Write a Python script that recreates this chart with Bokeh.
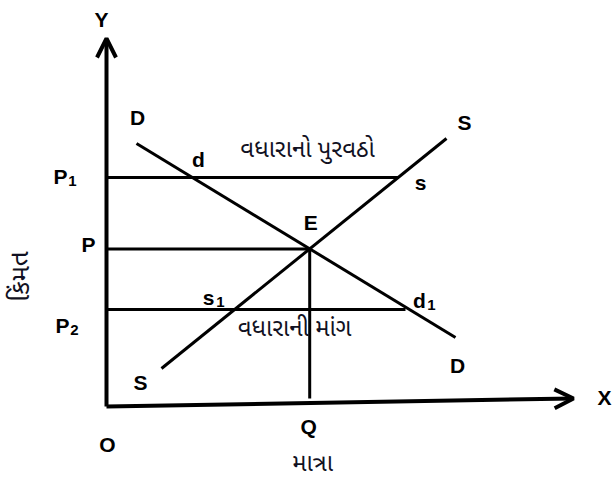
from bokeh.plotting import figure
from bokeh.models import Range1d, Arrow, OpenHead, ColumnDataSource
from bokeh.core.properties import value
from bokeh.embed import file_html
from bokeh.resources import INLINE

# ---- schematic values (diagram units) ----
demand_x = [1.5, 17.45]
demand_y = [13.15, 3.45]
supply_x = [2.75, 17.0]
supply_y = [1.9, 13.4]
eq_q = 10.16          # equilibrium quantity Q
eq_p = 7.88           # equilibrium price P
p1 = 11.45            # price above equilibrium
p2 = 4.85             # price below equilibrium
s_at_p1 = 14.6        # quantity supplied at P1 (point s)
d_at_p2 = 14.95       # quantity demanded at P2 (point d1)
d_at_p1 = 4.5         # point d
s_at_p2 = 6.4         # point s1
y_axis_top = 18.4
x_axis_end = 23.35
x_axis_rise = 0.4
q_line_bottom = 0.4

LATIN = value("Liberation Sans")
GUJ = value("Noto Sans Gujarati, Noto Sans, Lohit Gujarati, sans-serif")

p = figure(width=613, height=482, output_backend="svg", toolbar_location=None,
           x_range=Range1d(-5.3, 25.35), y_range=Range1d(-3.8, 20.3),
           min_border=0)
p.axis.visible = False
p.grid.visible = False
p.outline_line_color = None
p.background_fill_color = "white"

# axes with arrow heads
p.add_layout(Arrow(end=OpenHead(size=19, line_width=4, line_color="black"),
                   x_start=0, y_start=0, x_end=0, y_end=y_axis_top,
                   line_width=4, line_color="black"))
p.add_layout(Arrow(end=OpenHead(size=19, line_width=4, line_color="black"),
                   x_start=0, y_start=0, x_end=x_axis_end, y_end=x_axis_rise,
                   line_width=4, line_color="black"))

# demand and supply
p.line(demand_x, demand_y, line_width=3, line_color="black")
p.line(supply_x, supply_y, line_width=3, line_color="black")

# price lines
p.line([0, s_at_p1], [p1, p1], line_width=3, line_color="black")
p.line([0, eq_q], [eq_p, eq_p], line_width=3, line_color="black")
p.line([0, d_at_p2], [p2, p2], line_width=3, line_color="black")
# quantity line
p.line([eq_q, eq_q], [q_line_bottom, eq_p], line_width=3, line_color="black")

# ---- labels (offsets in screen pixels, +y downward) ----
names = ["Y", "X", "O", "D", "D", "S", "S", "E", "d", "s", "Q", "P"]
nx = [0, x_axis_end, 0, demand_x[0], demand_x[1], supply_x[1], supply_x[0],
      eq_q, d_at_p1, s_at_p1, eq_q, 0]
ny = [y_axis_top, x_axis_rise, 0, demand_y[0], demand_y[1], supply_y[1], supply_y[0],
      eq_p, p1, p1, 0, eq_p]
dx = [-5, 31, 1, 1, 2, 18, -21, 1, 2, 22, -1, -18]
dy = [-19, -1, 38, -26, 28, -16, 14, -26, -18, 5, 20, -4]
src = ColumnDataSource(dict(x=nx, y=ny, t=names, dx=dx, dy=dy))
p.text(x="x", y="y", text="t", x_offset="dx", y_offset="dy", source=src,
       text_font=LATIN, text_font_style="bold", text_font_size="21px",
       text_align="center", text_baseline="middle", text_color="black")

# letters with subscripts
sub_main = ["P", "P", "s", "d"]
sub_idx = ["1", "2", "1", "1"]
sx = [0, 0, s_at_p2, d_at_p2]
sy = [p1, p2, p2, p2]
sdx = [-46, -44, -26, 14]
sdy = [-1, 16, -12, -9]
src2 = ColumnDataSource(dict(x=sx, y=sy, t=sub_main, s=sub_idx, dx=sdx, dy=sdy,
                             dx2=[a + 12 for a in sdx], dy2=[b + 4 for b in sdy]))
p.text(x="x", y="y", text="t", x_offset="dx", y_offset="dy", source=src2,
       text_font=LATIN, text_font_style="bold", text_font_size="21px",
       text_align="center", text_baseline="middle", text_color="black")
p.text(x="x", y="y", text="s", x_offset="dx2", y_offset="dy2", source=src2,
       text_font=LATIN, text_font_style="bold", text_font_size="15px",
       text_align="center", text_baseline="middle", text_color="black")

# Gujarati texts
guj_text = ["વધારાનો  પુરવઠો", "વધારાની  માંગ"]
gx = [eq_q, eq_q]
gy = [p1, p2]
gdx = [1, -12]
gdy = [-27, 20]
p.text(x=gx, y=gy, text=guj_text, x_offset=gdx, y_offset=gdy,
       text_font=GUJ, text_font_size="24px", text_align="center",
       text_baseline="middle", text_color="#111122")
p.text(x=[eq_q], y=[0], text=["માત્રા"], x_offset=[3], y_offset=[58],
       text_font=GUJ, text_font_size="24px", text_align="center",
       text_baseline="middle", text_color="#111122")
p.text(x=[0], y=[p2], text=["કિંમત"], x_offset=[-84], y_offset=[-33], angle=1.5708,
       text_font=GUJ, text_font_size="26px", text_align="center",
       text_baseline="middle", text_color="#111122")

open("out.html", "w").write(file_html(p, INLINE))
